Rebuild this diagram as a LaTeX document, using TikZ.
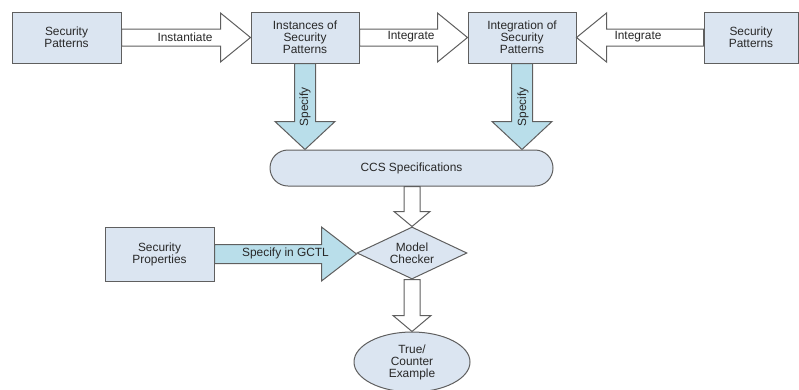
\documentclass[tikz,border=0pt]{standalone}
\usepackage{fontspec}
\setmainfont{Liberation Sans}
\usetikzlibrary{calc,shapes.geometric}
\definecolor{boxfill}{RGB}{219,229,241}
\definecolor{arrfill}{RGB}{185,222,234}
\definecolor{edgec}{RGB}{95,95,95}
\definecolor{txtc}{RGB}{40,40,40}
% horizontal block arrow: style, from, to, shaft half width, head half width, head offset (signed)
\newcommand\harr[6]{\draw[#1] let \p1=(#2), \p2=(#3), \p3=($(#3)+(#6,0)$) in
  (\x1,\y1+#4) -- (\x3,\y1+#4) -- (\x3,\y1+#5) -- (\x2,\y1) -- (\x3,\y1-#5) -- (\x3,\y1-#4) -- (\x1,\y1-#4) -- cycle;}
% vertical block arrow
\newcommand\varr[6]{\draw[#1] let \p1=(#2), \p2=(#3), \p3=($(#3)+(0,#6)$) in
  (\x1+#4,\y1) -- (\x1+#4,\y3) -- (\x1+#5,\y3) -- (\x1,\y2) -- (\x1-#5,\y3) -- (\x1-#4,\y3) -- (\x1-#4,\y1) -- cycle;}
\tikzset{
  lbl/.style={text=txtc, font=\fontsize{11.9}{12}\selectfont, align=center, inner sep=0pt},
  boxn/.style={lbl, draw=edgec, fill=boxfill, line width=1pt, rectangle},
  whitearr/.style={draw=edgec, fill=white, line width=1pt, line join=miter},
  bluearr/.style={draw=edgec, fill=arrfill, line width=1pt, line join=miter},
}
\begin{document}
\begin{tikzpicture}[x=1pt,y=-1pt]
\useasboundingbox (0,0) rectangle (799,389);
% nodes
\node[boxn, minimum width=109pt, minimum height=51pt] (sp1) at (66.5,37.5) {Security\\Patterns};
\node[boxn, minimum width=108pt, minimum height=51pt] (inst) at (305,37.5) {Instances of\\Security\\Patterns};
\node[boxn, minimum width=108pt, minimum height=51pt] (integ) at (522,37.5) {Integration of\\Security\\Patterns};
\node[boxn, minimum width=94pt, minimum height=51pt] (sp2) at (751,37.5) {Security\\Patterns};
\node[boxn, minimum width=283pt, minimum height=36pt, rounded corners=18pt] (ccs) at (411.5,168) {CCS Specifications};
\node[lbl, draw=edgec, fill=boxfill, line width=1pt, diamond, aspect=2.1, minimum width=110pt, minimum height=52pt] (mc) at (412,253) {Model\\Checker};
\node[boxn, minimum width=109pt, minimum height=54pt] (prop) at (159.5,254) {Security\\Properties};
\node[lbl, draw=edgec, fill=boxfill, line width=1pt, ellipse, minimum width=116pt, minimum height=60pt] (res) at (412,362) {True/\\Counter\\Example};
% block arrows
\harr{whitearr}{sp1.east}{inst.west}{8.5pt}{24.5pt}{-30}
\harr{whitearr}{inst.east}{integ.west}{8.5pt}{24.5pt}{-30}
\harr{whitearr}{sp2.west}{integ.east}{8.5pt}{24.5pt}{30}
\varr{bluearr}{inst.south}{inst.south |- ccs.north}{10.5pt}{30pt}{-28}
\varr{bluearr}{integ.south}{integ.south |- ccs.north}{10.5pt}{30pt}{-28}
\varr{whitearr}{ccs.south -| mc.north}{mc.north}{8pt}{18pt}{-15}
\varr{whitearr}{mc.south}{res.north}{8pt}{19pt}{-16}
\harr{bluearr}{prop.east}{mc.west}{9.5pt}{27pt}{-35}
% arrow labels
\node[lbl] (tInst) at (185,37) {Instantiate};
\node[lbl] (tInt1) at (411,37) {Integrate};
\node[lbl] (tInt2) at (638,37) {Integrate};
\node[lbl, rotate=90] (tSp1) at (305,107) {Specify};
\node[lbl, rotate=90] (tSp2) at (523,107) {Specify};
\node[lbl] (tGctl) at (285.5,253) {Specify in GCTL};
\end{tikzpicture}
\end{document}
